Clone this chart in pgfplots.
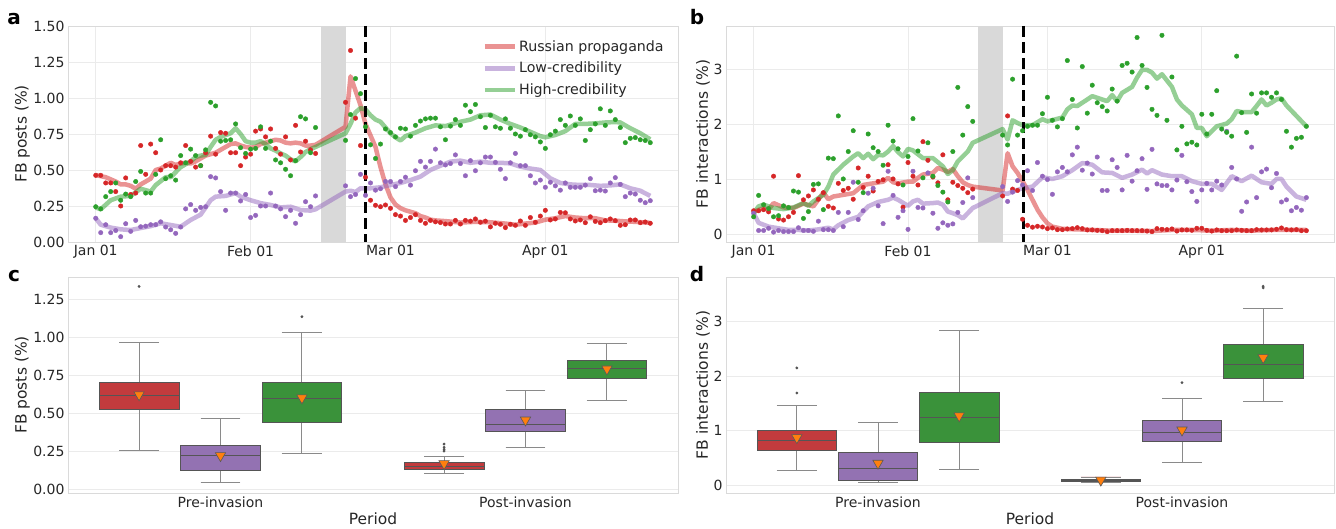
\documentclass[border=0pt]{standalone}
\usepackage{pgfplots}
\pgfplotsset{compat=1.18}
\usepgfplotslibrary{statistics}
\usepackage{fontspec}
\setmainfont{DejaVu Sans}
\definecolor{tabred}{HTML}{D62728}
\definecolor{tabpurple}{HTML}{9467BD}
\definecolor{tabgreen}{HTML}{2CA02C}
\definecolor{boxred}{HTML}{C23B3D}
\definecolor{boxpurple}{HTML}{9372B2}
\definecolor{boxgreen}{HTML}{3A923A}
\definecolor{boxedge}{HTML}{555555}
\definecolor{whiskcol}{HTML}{8A8A8A}
\definecolor{meanorange}{HTML}{FF7F0E}
\definecolor{txtcol}{HTML}{262626}
\definecolor{gridcol}{HTML}{EBEBEB}
\definecolor{framecol}{HTML}{DADADA}
\definecolor{bandcol}{HTML}{D9D9D9}
\pgfplotsset{
 sbase/.style={
  scale only axis, width=610pt, height=216pt,
  axis line style={draw=framecol, line width=0.9pt},
  grid style={draw=gridcol, line width=0.9pt},
  major tick length=0pt, tick style={draw=none},
  tick label style={font=\fontsize{14}{16}\selectfont, text=txtcol},
  label style={font=\fontsize{15.5}{18}\selectfont, text=txtcol},
  /pgf/number format/assume math mode=true,
 },
 dots/.style={only marks, mark=*, mark size=2.25pt, color=#1, mark options={draw=none, fill=#1}, forget plot},
 smooth/.style={#1, line width=4.5pt, draw opacity=0.5, no marks, line join=round},
 bx/.style={boxplot/draw direction=y, boxplot/box extend=0.262, boxplot/whisker extend=0.131,
   fill=#1, draw=boxedge, line width=0.9pt, mark=*, mark size=0.9pt,
   mark options={draw=boxedge, fill=boxedge},
   boxplot/every whisker/.style={draw=whiskcol},
   boxplot/every median/.style={draw=boxedge}},
 means/.style={only marks, mark=triangle*, mark size=6pt,
   mark options={rotate=180, fill=meanorange, draw=black!65, line width=0.6pt}},
}
\begin{document}
\begin{tikzpicture}
\useasboundingbox (0pt,0pt) rectangle (1336pt,-529pt);
% ---------------- panel a
\begin{axis}[sbase, at={(68pt,-242pt)}, anchor=south west,
  xmin=-5.55, xmax=116.55, ymin=0, ymax=1.5,
  xtick={0,31,59,90}, xticklabels={Jan 01,Feb 01,Mar 01,Apr 01},
  ytick={0,0.25,0.5,0.75,1,1.25,1.5},
  yticklabel style={/pgf/number format/.cd,fixed,fixed zerofill,precision=2},
  grid=major, ylabel={FB posts (\%)},
  ylabel style={at={(axis description cs:-0.075,0.5)}, anchor=center},
  legend style={draw=none, fill=none, at={(axis description cs:0.985,0.953)}, anchor=north east,
    font=\fontsize{14.2}{17}\selectfont, text=txtcol, row sep=5.5pt},
  legend cell align=left,
  legend image code/.code={\draw[#1] (0pt,0pt) -- (30pt,0pt);},
]
\addplot[draw=none, fill=bandcol, forget plot] coordinates {(45,0) (45,1.5) (50,1.5) (50,0)} -- cycle;
\addplot[smooth=tabred] coordinates {(0,.465)(2,.45)(4,.42)(5,.40)(6,.40)(7,.39)(8,.37)(9,.40)(10,.42)(11,.44)(12,.50)(13,.51)(14,.53)(15,.55)(16,.535)(17,.545)(18,.55)(19,.545)(20,.56)(21,.58)(22,.60)(23,.61)(24,.62)(25,.64)(26,.66)(27,.68)(28,.685)(29,.67)(30,.66)(31,.655)(32,.66)(33,.68)(34,.69)(35,.70)(36,.71)(37,.705)(38,.69)(39,.685)(40,.69)(41,.685)(42,.67)(43,.67)(44,.675)(50,.80)(51,1.15)(52,1.05)(53,.95)(54,.82)(55,.74)(56,.66)(57,.52)(58,.40)(59,.31)(60,.26)(61,.235)(62,.22)(63,.21)(64,.20)(65,.18)(66,.17)(67,.155)(68,.15)(70,.145)(73,.135)(76,.14)(79,.137)(82,.128)(84,.12)(86,.128)(88,.135)(90,.155)(92,.165)(94,.18)(96,.17)(98,.165)(100,.165)(102,.15)(104,.148)(106,.143)(108,.14)(111,.133)};
\addlegendentry{Russian propaganda}
\addplot[smooth=tabpurple] coordinates {(0,.165)(1,.12)(3,.10)(5,.088)(7,.083)(9,.097)(11,.11)(13,.13)(15,.118)(17,.106)(19,.153)(21,.19)(23,.29)(24,.315)(26,.32)(28,.34)(29,.315)(31,.29)(33,.27)(35,.257)(37,.24)(39,.245)(41,.222)(43,.218)(44,.227)(50,.35)(51,.356)(52,.347)(53,.373)(55,.373)(57,.38)(59,.396)(61,.41)(63,.43)(65,.454)(67,.50)(69,.53)(71,.558)(73,.565)(75,.55)(77,.558)(79,.55)(81,.55)(83,.546)(85,.523)(87,.51)(89,.50)(91,.442)(93,.41)(95,.40)(97,.396)(99,.396)(101,.39)(103,.393)(105,.40)(107,.373)(109,.356)(111,.32)};
\addlegendentry{Low-credibility}
\addplot[smooth=tabgreen] coordinates {(0,.24)(1,.227)(3,.29)(5,.315)(7,.32)(9,.37)(11,.35)(12,.395)(14,.45)(15,.45)(17,.52)(19,.56)(20,.59)(21,.60)(22,.605)(23,.66)(24,.71)(25,.73)(27,.755)(28,.79)(29,.75)(30,.70)(31,.69)(32,.69)(33,.70)(34,.68)(35,.65)(36,.635)(37,.615)(38,.60)(39,.574)(40,.56)(41,.59)(42,.625)(43,.645)(44,.66)(50,.755)(51,.82)(52,.90)(53,.93)(54,.92)(55,.88)(56,.85)(57,.835)(58,.795)(59,.755)(60,.727)(61,.705)(62,.735)(64,.76)(66,.79)(68,.81)(70,.805)(73,.835)(75,.85)(77,.88)(79,.885)(81,.85)(83,.82)(85,.795)(87,.765)(89,.735)(90,.727)(92,.743)(94,.77)(96,.82)(98,.82)(100,.824)(102,.83)(104,.833)(105,.83)(107,.79)(109,.755)(111,.713)};
\addlegendentry{High-credibility}
\addplot[dots=tabred] coordinates {(0,.463)(1,.463)(2,.41)(3,.41)(4,.35)(5,.25)(6,.445)(7,.33)(8,.34)(9,.67)(10,.47)(11,.68)(12,.62)(13,.50)(14,.53)(15,.53)(16,.52)(17,.55)(18,.67)(19,.56)(20,.52)(21,.53)(22,.62)(23,.735)(24,.61)(25,.76)(26,.755)(27,.62)(28,.62)(29,.53)(30,.59)(31,.61)(32,.77)(33,.785)(34,.73)(35,.785)(36,.65)(37,.61)(38,.73)(39,.57)(40,.81)(41,.625)(42,.70)(43,.64)(44,.615)(50,.97)(51,1.33)(52,.86)(53,.67)(54,.45)(55,.29)(56,.255)(57,.245)(58,.257)(59,.234)(60,.19)(61,.18)(62,.15)(63,.17)(64,.19)(65,.15)(66,.13)(67,.15)(68,.14)(69,.135)(70,.125)(71,.125)(72,.15)(73,.125)(74,.15)(75,.145)(76,.16)(77,.137)(78,.145)(79,.105)(80,.13)(81,.123)(82,.10)(83,.123)(84,.116)(85,.146)(86,.116)(87,.17)(88,.137)(89,.18)(90,.22)(91,.153)(92,.16)(93,.205)(94,.203)(95,.16)(96,.146)(97,.153)(98,.134)(99,.175)(100,.143)(101,.134)(102,.148)(103,.16)(104,.148)(105,.116)(106,.12)(107,.153)(108,.153)(109,.134)(110,.139)(111,.13)};
\addplot[dots=tabpurple] coordinates {(0,.165)(1,.065)(2,.12)(3,.065)(4,.08)(5,.037)(6,.127)(7,.074)(8,.15)(9,.106)(10,.11)(11,.12)(12,.12)(13,.14)(14,.104)(15,.085)(16,.06)(17,.104)(18,.23)(19,.26)(20,.22)(21,.24)(22,.245)(23,.454)(24,.445)(25,.35)(26,.22)(27,.34)(28,.34)(29,.285)(30,.33)(31,.17)(32,.185)(33,.25)(34,.25)(35,.34)(36,.25)(37,.23)(38,.176)(39,.22)(40,.13)(41,.19)(42,.28)(43,.245)(44,.32)(50,.39)(51,.315)(52,.33)(53,.47)(54,.324)(55,.41)(56,.36)(57,.37)(58,.42)(59,.42)(60,.385)(61,.42)(62,.45)(63,.395)(64,.495)(65,.56)(66,.52)(67,.56)(68,.645)(69,.55)(70,.535)(71,.545)(72,.605)(73,.545)(74,.46)(75,.565)(76,.495)(77,.55)(78,.59)(79,.59)(80,.553)(81,.505)(82,.44)(83,.55)(84,.615)(85,.53)(86,.53)(87,.46)(88,.41)(89,.43)(90,.38)(91,.415)(92,.39)(93,.36)(94,.41)(95,.38)(96,.38)(97,.38)(98,.395)(99,.44)(100,.356)(101,.36)(102,.354)(103,.41)(104,.447)(105,.40)(106,.315)(107,.34)(108,.333)(109,.29)(110,.273)(111,.287)};
\addplot[dots=tabgreen] coordinates {(0,.245)(1,.23)(2,.315)(3,.35)(4,.41)(5,.29)(6,.333)(7,.315)(8,.42)(9,.49)(10,.34)(11,.34)(12,.47)(13,.71)(14,.44)(15,.46)(16,.43)(17,.60)(18,.55)(19,.645)(20,.60)(21,.53)(22,.64)(23,.97)(24,.945)(25,.70)(26,.705)(27,.71)(28,.82)(29,.655)(30,.615)(31,.645)(32,.65)(33,.80)(34,.65)(35,.70)(36,.57)(37,.55)(38,.505)(39,.46)(40,.565)(41,.87)(42,.855)(43,.62)(44,.795)(50,.706)(51,.885)(52,1.135)(53,1.03)(54,.80)(55,.675)(56,.58)(57,.68)(58,.785)(59,.76)(60,.73)(61,.79)(62,.785)(63,.735)(64,.81)(65,.84)(66,.855)(67,.86)(68,.86)(69,.80)(70,.71)(71,.805)(72,.85)(73,.81)(74,.95)(75,.905)(76,.955)(77,.87)(78,.795)(79,.88)(80,.80)(81,.79)(82,.855)(83,.79)(84,.75)(85,.735)(86,.78)(87,.745)(88,.73)(89,.695)(90,.65)(91,.745)(92,.77)(93,.85)(94,.81)(95,.875)(96,.81)(97,.855)(98,.705)(99,.78)(100,.82)(101,.925)(102,.81)(103,.91)(104,.85)(105,.795)(106,.69)(107,.72)(108,.725)(109,.71)(110,.705)(111,.69)};
\addplot[black, line width=3pt, dash pattern=on 11pt off 5pt, forget plot] coordinates {(53.9,1.5) (53.9,0)};
\end{axis}
% ---------------- panel b
\begin{axis}[sbase, at={(726pt,-242pt)}, anchor=south west, width=608pt,
  xmin=-5.55, xmax=116.55, ymin=-0.14, ymax=3.8,
  xtick={0,31,59,90}, xticklabels={Jan 01,Feb 01,Mar 01,Apr 01},
  ytick={0,1,2,3},
  grid=major, ylabel={FB interactions (\%)},
  ylabel style={at={(axis description cs:-0.038,0.5)}, anchor=center},
]
\addplot[draw=none, fill=bandcol, forget plot] coordinates {(45,-0.14) (45,3.8) (50,3.8) (50,-0.14)} -- cycle;
\addplot[smooth=tabred] coordinates {(0,.41)(2,.48)(3,.45)(4,.57)(6,.49)(8,.48)(10,.56)(12,.51)(14,.76)(15,.64)(16,.69)(18,.72)(20,.75)(22,.90)(24,.93)(26,.96)(27,1.03)(28,.95)(29,.93)(31,.96)(32,.96)(33,1.03)(34,1.09)(36,1.12)(37,1.21)(38,1.18)(39,1.14)(40,1.19)(41,1.06)(42,.95)(43,.90)(44,.87)(50,.80)(51,1.48)(52,1.24)(53,1.12)(54,.97)(55,.81)(56,.63)(57,.45)(58,.31)(59,.20)(60,.14)(62,.10)(65,.09)(68,.08)(72,.067)(76,.067)(80,.06)(84,.08)(88,.08)(92,.067)(96,.08)(100,.067)(104,.08)(108,.08)(111,.08)};
\addplot[smooth=tabpurple] coordinates {(0,.385)(1,.21)(3,.14)(5,.11)(7,.08)(9,.08)(11,.07)(13,.09)(15,.12)(16,.09)(17,.165)(19,.26)(21,.32)(23,.51)(25,.59)(27,.63)(28,.67)(29,.63)(31,.52)(32,.60)(33,.63)(34,.56)(36,.57)(37,.58)(38,.54)(39,.415)(40,.385)(41,.35)(42,.29)(43,.385)(44,.48)(50,.75)(51,.74)(52,.78)(54,.84)(56,.87)(58,1.04)(60,1.01)(62,1.06)(64,1.17)(66,1.30)(68,1.27)(70,1.13)(72,1.12)(74,1.03)(76,1.09)(78,1.18)(79,1.11)(80,1.17)(82,1.09)(84,1.06)(86,1.06)(88,.97)(90,.92)(92,.92)(94,.81)(96,1.06)(98,.97)(100,1.07)(102,.95)(104,.92)(105,1.01)(106,1.01)(107,.87)(109,.69)(111,.63)};
\addplot[smooth=tabgreen] coordinates {(0,.385)(1,.51)(2,.54)(4,.48)(6,.46)(8,.49)(10,.57)(11,.52)(12,.60)(14,.72)(15,.87)(16,1.09)(18,1.27)(20,1.42)(21,1.48)(22,1.39)(23,1.47)(24,1.37)(25,1.45)(26,1.44)(27,1.51)(28,1.61)(29,1.50)(30,1.42)(31,1.56)(32,1.53)(34,1.39)(36,1.39)(38,1.24)(39,1.10)(40,1.17)(41,1.33)(42,1.42)(43,1.51)(44,1.67)(50,1.92)(51,1.73)(52,2.08)(53,2.03)(54,1.99)(56,1.99)(58,2.10)(59,2.06)(62,2.13)(63,2.28)(64,2.35)(65,2.34)(66,2.40)(68,2.52)(70,2.46)(71,2.43)(72,2.54)(73,2.43)(74,2.58)(76,2.69)(77,2.86)(78,3.00)(79,3.00)(80,2.95)(81,2.84)(82,2.92)(84,2.69)(85,2.46)(86,2.35)(88,2.19)(89,1.94)(90,1.94)(91,1.79)(93,1.97)(95,2.02)(96,2.10)(97,2.25)(98,2.23)(100,2.23)(101,2.34)(102,2.46)(103,2.35)(104,2.40)(105,2.46)(106,2.48)(107,2.35)(109,2.16)(111,1.97)};
\addplot[dots=tabred] coordinates {(0,.43)(1,.43)(2,.45)(3,.41)(4,1.06)(5,.28)(6,.26)(7,.32)(8,.40)(9,1.07)(10,.63)(11,.70)(12,.81)(13,.64)(14,.76)(15,.51)(16,.48)(17,.93)(18,.80)(19,.84)(20,.64)(21,1.21)(22,.855)(23,1.06)(24,.79)(25,.965)(26,.995)(27,1.27)(28,1.01)(29,.92)(30,.495)(31,1.31)(32,1.06)(33,.90)(34,1.69)(35,1.35)(36,1.045)(37,.94)(38,1.45)(39,.63)(40,.95)(41,.89)(42,.84)(43,.76)(44,.825)(50,.70)(51,2.16)(52,.825)(53,.80)(54,.275)(55,.165)(56,.13)(57,.147)(58,.134)(59,.104)(60,.116)(61,.085)(62,.085)(63,.098)(64,.104)(65,.122)(66,.104)(67,.08)(68,.08)(69,.073)(70,.067)(71,.049)(72,.067)(73,.067)(74,.067)(75,.073)(76,.067)(77,.067)(78,.067)(79,.06)(80,.049)(81,.104)(82,.092)(83,.085)(84,.098)(85,.06)(86,.08)(87,.08)(88,.073)(89,.11)(90,.11)(91,.073)(92,.06)(93,.08)(94,.067)(95,.067)(96,.067)(97,.08)(98,.073)(99,.067)(100,.067)(101,.085)(102,.08)(103,.08)(104,.08)(105,.092)(106,.116)(107,.085)(108,.08)(109,.085)(110,.067)(111,.067)};
\addplot[dots=tabpurple] coordinates {(0,.385)(1,.07)(2,.07)(3,.11)(4,.04)(5,.07)(6,.05)(7,.05)(8,.05)(9,.12)(10,.07)(11,.07)(12,.055)(13,.24)(14,.085)(15,.085)(16,.07)(17,.40)(18,.14)(19,.40)(20,.95)(21,.27)(22,.43)(23,.75)(24,.84)(25,.52)(26,.195)(27,1.15)(28,.71)(29,.31)(30,.43)(31,.09)(32,1.15)(33,.49)(34,.48)(35,1.12)(36,.385)(37,.11)(38,.21)(39,.165)(40,.19)(41,.40)(42,.58)(43,1.03)(44,.67)(50,.87)(51,.60)(52,.77)(53,.98)(54,.90)(55,1.16)(56,.80)(57,1.31)(58,1.06)(59,1.00)(60,.73)(61,1.14)(62,1.22)(63,1.14)(64,1.45)(65,1.59)(66,1.17)(67,1.30)(68,1.10)(69,1.41)(70,.80)(71,.80)(72,1.36)(73,1.22)(74,.81)(75,1.44)(76,.97)(77,1.16)(78,1.38)(79,.82)(80,1.55)(81,.92)(82,.89)(83,.89)(84,.81)(85,.99)(86,1.44)(87,.96)(88,.78)(89,.60)(90,.81)(91,.93)(92,.81)(93,.97)(94,.90)(95,1.88)(96,1.22)(97,1.01)(98,.42)(99,.59)(100,1.59)(101,.67)(102,1.14)(103,1.19)(104,.85)(105,1.11)(106,.59)(107,.63)(108,.43)(109,.49)(110,.44)(111,.67)};
\addplot[dots=tabgreen] coordinates {(0,.32)(1,.71)(2,.54)(3,.47)(4,.32)(5,.34)(6,.52)(7,.49)(8,.79)(9,.77)(10,.29)(11,.415)(12,.91)(13,.92)(14,.45)(15,1.39)(16,1.38)(17,2.16)(18,1.01)(19,1.51)(20,1.89)(21,.95)(22,.76)(23,1.83)(24,1.58)(25,1.51)(26,1.26)(27,1.99)(28,1.70)(29,1.56)(30,.90)(31,1.42)(32,2.11)(33,1.52)(34,1.03)(35,1.67)(36,1.06)(37,.89)(38,.77)(39,.59)(40,1.51)(41,2.68)(42,1.81)(43,2.33)(44,2.06)(50,1.81)(51,1.63)(52,2.83)(53,1.81)(54,1.89)(55,1.97)(56,1.99)(57,1.99)(58,2.20)(59,2.50)(60,2.08)(61,1.96)(62,2.11)(63,3.17)(64,2.46)(65,1.94)(66,3.06)(67,2.21)(68,2.72)(69,2.40)(70,2.33)(71,2.25)(72,2.65)(73,2.43)(74,3.08)(75,3.12)(76,2.96)(77,3.59)(78,3.08)(79,2.68)(80,2.28)(81,2.17)(82,3.63)(83,2.08)(84,2.87)(85,1.54)(86,1.97)(87,1.65)(88,1.68)(89,1.63)(90,2.19)(91,1.83)(92,2.19)(93,2.62)(94,1.92)(95,1.86)(96,1.79)(97,3.25)(98,2.22)(99,1.86)(100,2.56)(101,2.21)(102,2.58)(103,2.58)(104,2.50)(105,2.58)(106,2.46)(107,1.88)(108,1.59)(109,1.75)(110,1.77)(111,1.97)};
\addplot[black, line width=3pt, dash pattern=on 11pt off 5pt, forget plot] coordinates {(54.1,3.8) (54.1,-0.14)};
\end{axis}
% ---------------- panel c
\begin{axis}[sbase, at={(68pt,-493pt)}, anchor=south west,
  xmin=-0.5, xmax=1.5, ymin=-0.026, ymax=1.395,
  xtick={0,1}, xticklabels={Pre-invasion,Post-invasion},
  ytick={0,0.25,0.5,0.75,1,1.25},
  yticklabel style={/pgf/number format/.cd,fixed,fixed zerofill,precision=2},
  ymajorgrids, ylabel={FB posts (\%)}, xlabel={Period},
  ylabel style={at={(axis description cs:-0.075,0.5)}, anchor=center},
  xlabel style={at={(axis description cs:0.5,-0.12)}, anchor=center},
]
\addplot[bx=boxred, boxplot prepared={draw position=-0.267, lower whisker=0.254, lower quartile=0.522, median=0.618, upper quartile=0.70, upper whisker=0.967}] table[row sep=\\, y index=0] {data\\ 1.333\\};
\addplot[bx=boxpurple, boxplot prepared={draw position=0, lower whisker=0.042, lower quartile=0.125, median=0.224, upper quartile=0.29, upper whisker=0.467}] coordinates {};
\addplot[bx=boxgreen, boxplot prepared={draw position=0.267, lower whisker=0.237, lower quartile=0.439, median=0.599, upper quartile=0.704, upper whisker=1.033}] table[row sep=\\, y index=0] {data\\ 1.134\\};
\addplot[bx=boxred, boxplot prepared={draw position=0.733, lower whisker=0.105, lower quartile=0.129, median=0.151, upper quartile=0.173, upper whisker=0.215}] table[row sep=\\, y index=0] {data\\ 0.296\\ 0.275\\ 0.262\\ 0.25\\};
\addplot[bx=boxpurple, boxplot prepared={draw position=1, lower whisker=0.276, lower quartile=0.379, median=0.425, upper quartile=0.522, upper whisker=0.647}] coordinates {};
\addplot[bx=boxgreen, boxplot prepared={draw position=1.267, lower whisker=0.583, lower quartile=0.728, median=0.792, upper quartile=0.844, upper whisker=0.96}] coordinates {};
\addplot[means] coordinates {(-0.267,0.62) (0,0.22) (0.267,0.60) (0.733,0.167) (1,0.454) (1.267,0.79)};
\end{axis}
% ---------------- panel d
\begin{axis}[sbase, at={(726pt,-493pt)}, anchor=south west, width=608pt,
  xmin=-0.5, xmax=1.5, ymin=-0.147, ymax=3.82,
  xtick={0,1}, xticklabels={Pre-invasion,Post-invasion},
  ytick={0,1,2,3},
  ymajorgrids, ylabel={FB interactions (\%)}, xlabel={Period},
  ylabel style={at={(axis description cs:-0.038,0.5)}, anchor=center},
  xlabel style={at={(axis description cs:0.5,-0.12)}, anchor=center},
]
\addplot[bx=boxred, boxplot prepared={draw position=-0.267, lower whisker=0.263, lower quartile=0.635, median=0.825, upper quartile=1.0, upper whisker=1.46}] table[row sep=\\, y index=0] {data\\ 2.15\\ 1.69\\};
\addplot[bx=boxpurple, boxplot prepared={draw position=0, lower whisker=0.043, lower quartile=0.08, median=0.31, upper quartile=0.60, upper whisker=1.155}] coordinates {};
\addplot[bx=boxgreen, boxplot prepared={draw position=0.267, lower whisker=0.293, lower quartile=0.776, median=1.246, upper quartile=1.70, upper whisker=2.83}] coordinates {};
\addplot[bx=boxred, boxplot prepared={draw position=0.733, lower whisker=0.05, lower quartile=0.067, median=0.085, upper quartile=0.10, upper whisker=0.147}] coordinates {};
\addplot[bx=boxpurple, boxplot prepared={draw position=1, lower whisker=0.42, lower quartile=0.80, median=0.97, upper quartile=1.19, upper whisker=1.594}] table[row sep=\\, y index=0] {data\\ 1.88\\};
\addplot[bx=boxgreen, boxplot prepared={draw position=1.267, lower whisker=1.54, lower quartile=1.95, median=2.22, upper quartile=2.59, upper whisker=3.24}] table[row sep=\\, y index=0] {data\\ 3.65\\ 3.62\\};
\addplot[means] coordinates {(-0.267,0.87) (0,0.40) (0.267,1.27) (0.733,0.09) (1,1.01) (1.267,2.34)};
\end{axis}
% ---------------- panel letters
\node[font=\fontsize{20}{24}\selectfont\bfseries, anchor=base, text=black] at (14pt,-25pt) {a};
\node[font=\fontsize{20}{24}\selectfont\bfseries, anchor=base, text=black] at (697pt,-25pt) {b};
\node[font=\fontsize{20}{24}\selectfont\bfseries, anchor=base, text=black] at (14pt,-282pt) {c};
\node[font=\fontsize{20}{24}\selectfont\bfseries, anchor=base, text=black] at (697pt,-282pt) {d};
\end{tikzpicture}
\end{document}
